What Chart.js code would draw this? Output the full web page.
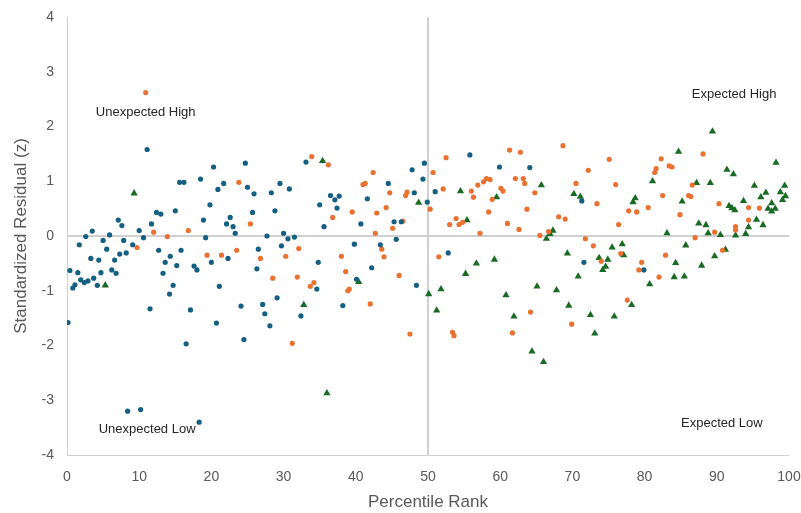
<!DOCTYPE html>
<html>
<head>
<meta charset="utf-8">
<script src="https://cdn.jsdelivr.net/npm/chart.js@4"></script>
<style>
  html, body { margin: 0; padding: 0; background: #ffffff; }
  #wrap { width: 801px; height: 513px; position: relative; }
</style>
</head>
<body>
<div id="wrap"><canvas id="c" width="801" height="513"></canvas></div>
<script>
// ---- Data (percentile rank, standardized residual z) ----
const blueX = [11.1,20.3,24.7,15.6,16.2,18.5,20.9,21.7,25.0,25.9,19.8,12.4,13.0,15.0,7.1,7.6,3.5,2.6,1.7,5.9,5.0,7.85,9.1,10.0,10.6,11.7,18.9,22.6,22.1,23.0,23.3,19.2,25.7,
  5.5,12.7,15.8,14.3,13.6,15.2,22.3,20.0,17.6,18.0,3.3,4.4,6.6,7.3,8.2,0.4,1.5,4.7,6.2,6.8,1.9,2.4,2.9,3.7,1.1,0.8,4.2,13.3,14.7,14.2,21.1,11.5,17.1,24.1,0.14,20.7,16.5,24.5,8.4,10.2,18.3,
  28.3,29.5,30.8,28.8,27.7,30.0,30.6,31.5,29.7,26.5,33.1,36.5,37.1,37.7,35.0,37.4,35.6,39.8,40.7,41.6,43.4,44.5,45.3,46.3,45.6,47.8,49.5,49.3,48.1,51.0,49.9,
  26.3,34.8,34.6,29.1,27.1,27.4,28.1,32.4,40.1,38.2,42.2,48.4,
  55.8,59.9,64.1,71.3,52.8,71.6,79.9];
const blueY = [1.58,1.26,1.33,0.98,0.98,1.04,0.85,0.96,0.89,0.77,0.57,0.43,0.40,0.46,0.29,0.19,0.09,-0.01,-0.16,0.02,-0.08,-0.08,-0.16,0.10,-0.03,0.22,0.29,0.34,0.22,0.17,0.05,-0.03,0.43,
  -0.24,-0.26,-0.26,-0.37,-0.48,-0.54,-0.41,-0.48,-0.55,-0.62,-0.41,-0.44,-0.44,-0.33,-0.31,-0.63,-0.67,-0.67,-0.62,-0.68,-0.80,-0.85,-0.82,-0.77,-0.89,-0.95,-0.90,-0.68,-0.90,-1.06,-0.92,-1.33,-1.35,-1.28,-1.58,-1.59,-1.97,-1.89,-3.20,-3.17,-3.40,
  0.79,0.96,0.86,0.46,0.00,0.05,-0.05,-0.02,-0.18,-0.24,1.35,0.74,0.66,0.73,0.57,0.51,0.17,-0.15,0.22,0.68,-0.16,0.96,0.26,0.26,-0.06,1.21,1.33,1.04,0.79,0.81,0.62,
  -0.60,-0.48,-0.97,-1.13,-1.25,-1.42,-1.64,-1.46,-0.79,-1.27,-0.58,-0.90,
  1.48,1.26,1.25,0.64,-0.31,-0.48,-0.62];

const orangeX = [10.9,23.8,9.7,12.0,13.9,16.8,25.4,19.4,21.4,23.5,
  33.9,36.2,36.8,39.5,41.0,41.3,42.4,42.9,42.7,43.6,44.7,44.2,46.5,45.1,50.7,47.1,46.9,50.3,32.1,
  26.8,30.3,28.5,31.9,34.2,33.7,31.2,38.0,38.6,39.1,38.9,42.0,43.9,46.0,47.5,51.5,
  52.5,52.1,56.0,56.3,56.9,57.7,58.1,58.6,60.1,60.4,58.9,61.3,62.8,62.1,63.2,63.4,64.8,63.7,58.4,53.9,53.0,54.3,54.8,57.2,61.0,62.6,65.5,66.7,68.1,69.0,68.7,70.5,73.4,72.2,75.1,76.0,76.4,71.8,72.9,
  53.4,53.6,61.7,64.2,74.0,76.7,69.9,
  88.1,82.3,83.4,83.8,81.6,81.4,86.6,82.5,86.1,86.4,90.3,94.4,95.9,80.5,77.8,78.9,84.9,94.4,92.6,92.6,89.7,87.0,
  82.9,79.6,79.2,82.0,90.8,77.6];
const orangeY = [2.62,0.98,-0.21,0.07,-0.01,0.10,0.22,-0.35,-0.35,-0.26,
  1.45,1.30,0.34,0.44,0.94,0.96,1.16,0.42,0.05,-0.24,0.79,0.52,0.27,0.14,1.16,0.80,0.74,0.49,-0.23,
  -0.41,-0.37,-0.77,-0.75,-0.85,-0.92,-1.96,-0.37,-0.65,-0.97,-1.00,-1.24,-0.38,-0.72,-1.79,-0.38,
  1.43,0.86,0.82,0.71,0.93,0.99,1.05,1.03,0.87,0.82,0.67,1.57,1.53,1.05,1.05,0.96,0.79,0.49,0.44,0.32,0.21,0.21,0.25,0.05,0.23,0.12,0.01,0.08,0.35,0.31,1.65,0.96,0.59,1.20,1.40,0.94,0.21,-0.05,-0.18,
  -1.76,-1.82,-1.77,-1.39,-0.46,-0.32,-1.61,
  1.50,1.41,1.28,1.26,1.23,1.16,0.93,0.74,0.74,0.72,0.59,0.52,0.51,0.52,0.46,0.44,0.39,0.29,0.17,0.11,0.07,-0.03,
  -0.35,-0.48,-0.62,-0.75,-0.26,-1.17];

const greenX = [9.3,5.3,35.4,48.7,32.8,36.0,40.4,50.1,51.2,
  54.5,59.5,55.4,66.4,66.9,67.3,65.7,70.2,71.1,75.5,76.9,
  56.7,59.2,55.2,51.8,60.8,65.1,67.8,61.9,64.4,66.0,69.3,73.7,74.9,74.6,74.2,70.8,69.5,72.5,75.8,73.1,77.1,
  89.4,84.7,98.2,91.4,92.3,81.1,87.2,89.1,95.2,99.4,98.8,99.5,99.1,96.8,96.1,78.7,78.4,85.2,93.7,97.6,91.7,92.1,92.5,97.1,97.6,98.1,87.5,88.5,95.5,96.4,94.4,88.8,90.5,92.6,94.0,83.1,85.7,
  84.3,84.1,85.5,80.7,87.9,89.7,91.2,78.2];
const greenY = [0.78,-0.90,1.37,0.61,-1.26,-2.87,-0.84,-1.06,-1.36,
  0.82,0.71,0.29,-0.05,0.04,0.10,0.93,0.77,0.72,-0.21,-0.15,
  -0.50,-0.43,-0.69,-0.97,-1.08,-0.92,-0.99,-1.47,-2.11,-2.30,-0.32,-0.40,-0.43,-0.56,-0.62,-0.74,-1.27,-1.44,-1.47,-1.78,-0.35,
  1.91,1.54,1.34,1.21,1.13,1.00,0.97,0.97,0.92,0.92,0.80,0.73,0.66,0.79,0.71,0.69,0.62,0.63,0.64,0.60,0.55,0.51,0.47,0.50,0.45,0.50,0.23,0.20,0.30,0.20,0.16,0.05,0.02,0.01,0.04,0.05,-0.17,
  -0.49,-0.75,-0.74,-0.88,-0.54,-0.37,-0.25,-1.26];

const xTicks = [0,10,20,30,40,50,60,70,80,90,100];
const yTicks = [-4,-3,-2,-1,0,1,2,3,4];

const quadrantNames = ['Unexpected High','Expected High','Unexpected Low','Expected Low'];
const quadrantAt = [[10.9,2.26],[92.4,2.58],[11.1,-3.54],[90.7,-3.42]];

const toPoints = (xs, ys) => xs.map((x, i) => ({ x: x, y: ys[i] }));

const FONT = "'Liberation Sans', Arial, sans-serif";

const quadrantLabels = {
  id: 'quadrantLabels',
  afterDatasetsDraw(chart) {
    const { ctx, scales } = chart;
    ctx.save();
    ctx.font = "13px " + FONT;
    ctx.fillStyle = '#262626';
    ctx.textAlign = 'center';
    ctx.textBaseline = 'middle';
    quadrantNames.forEach((t, i) => {
      ctx.fillText(t, scales.x.getPixelForValue(quadrantAt[i][0]), scales.y.getPixelForValue(quadrantAt[i][1]));
    });
    ctx.restore();
  }
};

new Chart(document.getElementById('c'), {
  type: 'scatter',
  data: {
    datasets: [
      { label: 'Group A', data: toPoints(blueX, blueY), backgroundColor: '#156082', borderColor: '#156082', pointRadius: 2.6, pointBorderWidth: 0, pointStyle: 'circle' },
      { label: 'Group B', data: toPoints(orangeX, orangeY), backgroundColor: '#E97132', borderColor: '#E97132', pointRadius: 2.6, pointBorderWidth: 0, pointStyle: 'circle' },
      { label: 'Group C', data: toPoints(greenX, greenY), backgroundColor: '#196B24', borderColor: '#196B24', pointRadius: 4.2, pointBorderWidth: 0, pointStyle: 'triangle' }
    ]
  },
  options: {
    responsive: false,
    animation: false,
    devicePixelRatio: 1,
    layout: { padding: 0 },
    plugins: { legend: { display: false }, tooltip: { enabled: false } },
    scales: {
      x: {
        type: 'linear', min: 0, max: 100,
        afterBuildTicks: s => { s.ticks = xTicks.map(v => ({ value: v })); },
        afterFit: s => { s.height = 58; s.paddingLeft = 0; s.paddingRight = 12; },
        ticks: { color: '#595959', font: { family: FONT, size: 14 }, padding: 14, maxRotation: 0 },
        grid: {
          drawTicks: false,
          color: c => (c.tick && c.tick.value === 50) ? '#d0d0d0' : 'rgba(0,0,0,0)',
          lineWidth: c => (c.tick && c.tick.value === 50) ? 2 : 0
        },
        border: { display: true, color: '#d0d0d0', width: 1 },
        title: { display: true, text: 'Percentile Rank', color: '#595959', font: { family: FONT, size: 17 }, padding: { top: 2, bottom: 0 } }
      },
      y: {
        type: 'linear', min: -4, max: 4,
        afterBuildTicks: s => { s.ticks = yTicks.map(v => ({ value: v })); },
        afterFit: s => { s.width = 67; s.paddingTop = 17; s.paddingBottom = 0; },
        ticks: { color: '#595959', font: { family: FONT, size: 14 }, padding: 13 },
        grid: {
          drawTicks: false,
          color: c => (c.tick && c.tick.value === 0) ? '#d0d0d0' : 'rgba(0,0,0,0)',
          lineWidth: c => (c.tick && c.tick.value === 0) ? 2 : 0
        },
        border: { display: true, color: '#d0d0d0', width: 1 },
        title: { display: true, text: 'Standardized Residual (z)', color: '#595959', font: { family: FONT, size: 17 }, padding: { top: 11, bottom: 0 } }
      }
    }
  },
  plugins: [quadrantLabels]
});
</script>
</body>
</html>
